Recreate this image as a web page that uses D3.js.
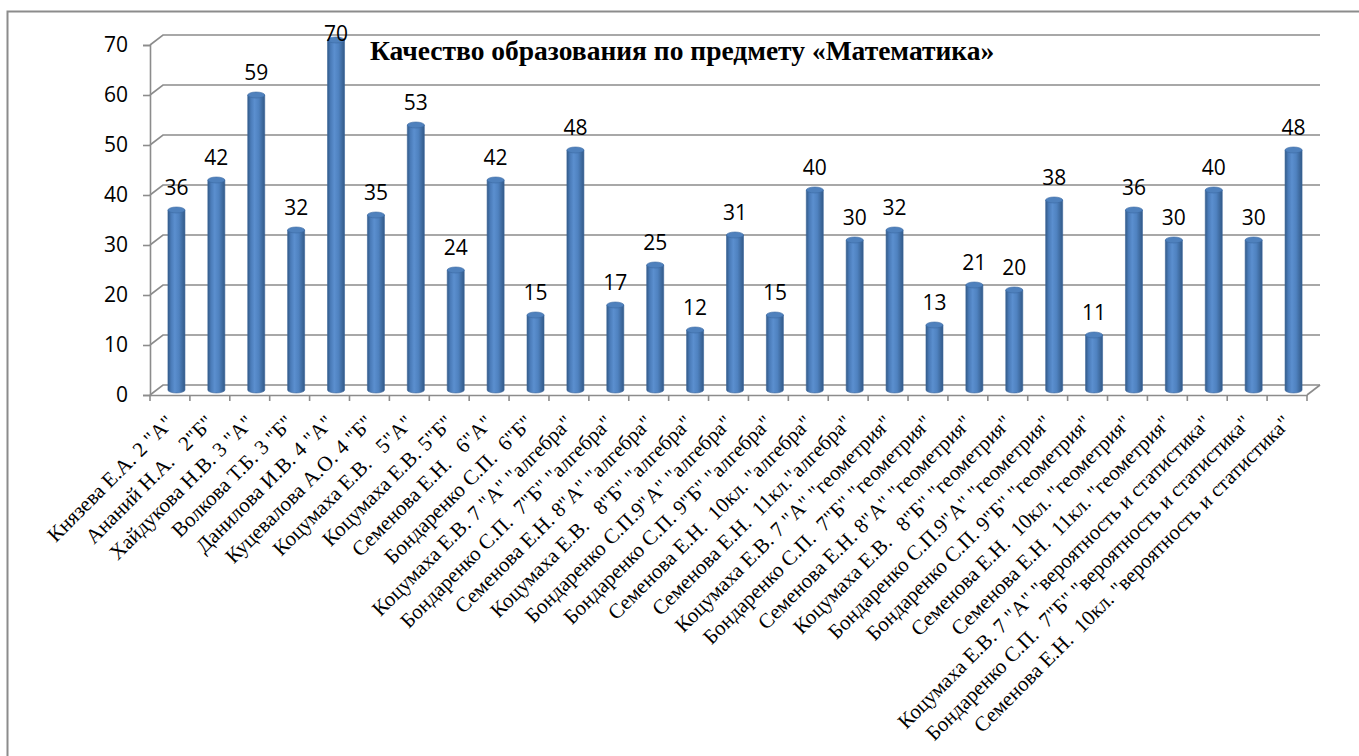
<!DOCTYPE html>
<html><head><meta charset="utf-8">
<script src="https://cdn.jsdelivr.net/npm/d3@7"></script>
<style>html,body{margin:0;padding:0;background:#fff;}svg{display:block;}</style>
</head><body>
<script>
const categories = [
 'Князева Е.А. 2 "А"', 'Ананий Н.А.   2"Б"', 'Хайдукова Н.В. 3 "А"', 'Волкова Т.Б. 3 "Б"',
 'Данилова И.В. 4 "А"', 'Куцевалова А.О. 4 "Б"', 'Коцумаха Е.В.   5"А"', 'Коцумаха Е.В. 5"Б"',
 'Семенова Е.Н.   6"А"', 'Бондаренко С.П.  6"Б"', 'Коцумаха Е.В. 7 "А" "алгебра"',
 'Бондаренко С.П.  7"Б" "алгебра"', 'Семенова Е.Н. 8"А" "алгебра"', 'Коцумаха Е.В.   8"Б" "алгебра"',
 'Бондаренко С.П.9"А" "алгебра"', 'Бондаренко С.П. 9"Б" "алгебра"', 'Семенова Е.Н.  10кл. "алгебра"',
 'Семенова Е.Н.  11кл."алгебра"', 'Коцумаха Е.В. 7 "А" "геометрия"', 'Бондаренко С.П.  7"Б" "геометрия"',
 'Семенова Е.Н. 8"А" "геометрия"', 'Коцумаха Е.В.   8"Б" "геометрия"', 'Бондаренко С.П.9"А" "геометрия"',
 'Бондаренко С.П. 9"Б" "геометрия"', 'Семенова Е.Н.  10кл. "геометрия"', 'Семенова Е.Н.  11кл. "геометрия"',
 'Коцумаха Е.В. 7 "А" "вероятность и статистика"', 'Бондаренко С.П.  7"Б" "вероятность и статистика"',
 'Семенова Е.Н.  10кл. "вероятность и статистика"'
];
const values = [36,42,59,32,70,35,53,24,42,15,48,17,25,12,31,15,40,30,32,13,21,20,38,11,36,30,40,30,48];
const yTicks = [0,10,20,30,40,50,60,70];
const title = 'Качество образования по предмету «Математика»';

const W = 1359, H = 756;
const svg = d3.select('body').append('svg').attr('width', W).attr('height', H);
const defs = svg.append('defs');
const grad = defs.append('linearGradient').attr('id','cyl').attr('x1','0%').attr('x2','100%').attr('y1','0%').attr('y2','0%');
[['0%','#335b88'],['18%','#4a7bb8'],['40%','#5b8fcf'],['65%','#4f82c0'],['100%','#335a88']].forEach(s=>grad.append('stop').attr('offset',s[0]).attr('stop-color',s[1]));

const DX = 13, DY = 10;
const x = d3.scaleBand().domain(categories).range([150, 1307]).padding(0);
const y = d3.scaleLinear().domain([0, 70]).range([395, 45]);
const gridColor = '#8c8c8c';

// outer border
svg.append('path').attr('d', `M7.5,${H} L7.5,11.5 L${W},11.5`).attr('fill','none').attr('stroke',gridColor).attr('stroke-width',2);

// gridlines (side wall + back wall)
const g = svg.append('g');
yTicks.forEach(t => {
  const yy = y(t);
  g.append('path').attr('d', `M150,${yy} L${150+DX},${yy-DY} L${1307+DX},${yy-DY}`)
    .attr('fill','none').attr('stroke',gridColor).attr('stroke-width',1.6);
});
g.append('line').attr('x1',1307).attr('y1',y(0)).attr('x2',1307+DX).attr('y2',y(0)-DY).attr('stroke',gridColor).attr('stroke-width',1.6);

// y axis
const yAxis = d3.axisLeft(y).tickValues(yTicks).tickSize(7).tickPadding(15);
const ya = svg.append('g').attr('transform','translate(150,0)').call(yAxis);
ya.select('.domain').attr('stroke',gridColor).attr('stroke-width',1.6);
ya.selectAll('.tick line').attr('stroke',gridColor).attr('stroke-width',1.6);
ya.selectAll('.tick text').attr('font-family','"Open Sans", sans-serif').attr('font-size',21).attr('fill','#000');

// x axis
const xAxis = d3.axisBottom(x).tickSize(0).tickFormat('');
const xa = svg.append('g').attr('transform',`translate(0,${y(0)})`).call(xAxis);
xa.select('.domain').attr('stroke',gridColor).attr('stroke-width',1.6);
xa.selectAll('.tick').remove();
const bounds = categories.map(c => x(c)).concat([x.range()[1]]);
xa.selectAll('line.bt').data(bounds).enter().append('line').attr('class','bt')
  .attr('x1', d=>d).attr('x2', d=>d).attr('y1',0).attr('y2',6).attr('stroke',gridColor).attr('stroke-width',1.6);

// x labels
svg.append('g').selectAll('text').data(categories).enter().append('text')
  .attr('transform', d => `translate(${x(d)+x.bandwidth()/2+5},${y(0)+29}) rotate(-45)`)
  .attr('text-anchor','end')
  .attr('font-family','"Liberation Serif", "Times New Roman", serif').attr('font-size',21)
  .attr('fill','#000').style('white-space','pre')
  .text(d => d);

// bars (cylinders)
const bw = 17, ry = 3;
const bars = svg.append('g').selectAll('g').data(values).enter().append('g');
const cx = (d,i) => x(categories[i]) + x.bandwidth()/2 + DX/2;
const barTop = d => y(d) - DY/2;
const base = y(0) - DY/2;
bars.append('path').attr('d', (d,i) => {
  const c = cx(d,i), l = c - bw/2, r = c + bw/2, t = barTop(d);
  return `M${l},${t} L${l},${base} A${bw/2},${ry} 0 0 0 ${r},${base} L${r},${t} Z`;
}).attr('fill','url(#cyl)').attr('stroke','#3b659b').attr('stroke-width',0.6);
bars.append('ellipse').attr('cx',(d,i)=>cx(d,i)).attr('cy',d=>barTop(d)).attr('rx',bw/2).attr('ry',ry)
  .attr('fill','#4f81bd').attr('stroke','#3a6aa3').attr('stroke-width',0.6);

// value labels
svg.append('g').selectAll('text').data(values).enter().append('text')
  .attr('x',(d,i)=>cx(d,i)).attr('y', d => Math.max(barTop(d) - 15, 41))
  .attr('text-anchor','middle').attr('font-family','"Open Sans", sans-serif').attr('font-size',21).attr('fill','#000')
  .text(d => d);

// title
svg.append('text').attr('x',370).attr('y',60)
  .attr('font-family','"Liberation Serif", "Times New Roman", serif').attr('font-weight','bold').attr('font-size',27.5)
  .attr('fill','#000').text(title);
</script>
</body></html>
